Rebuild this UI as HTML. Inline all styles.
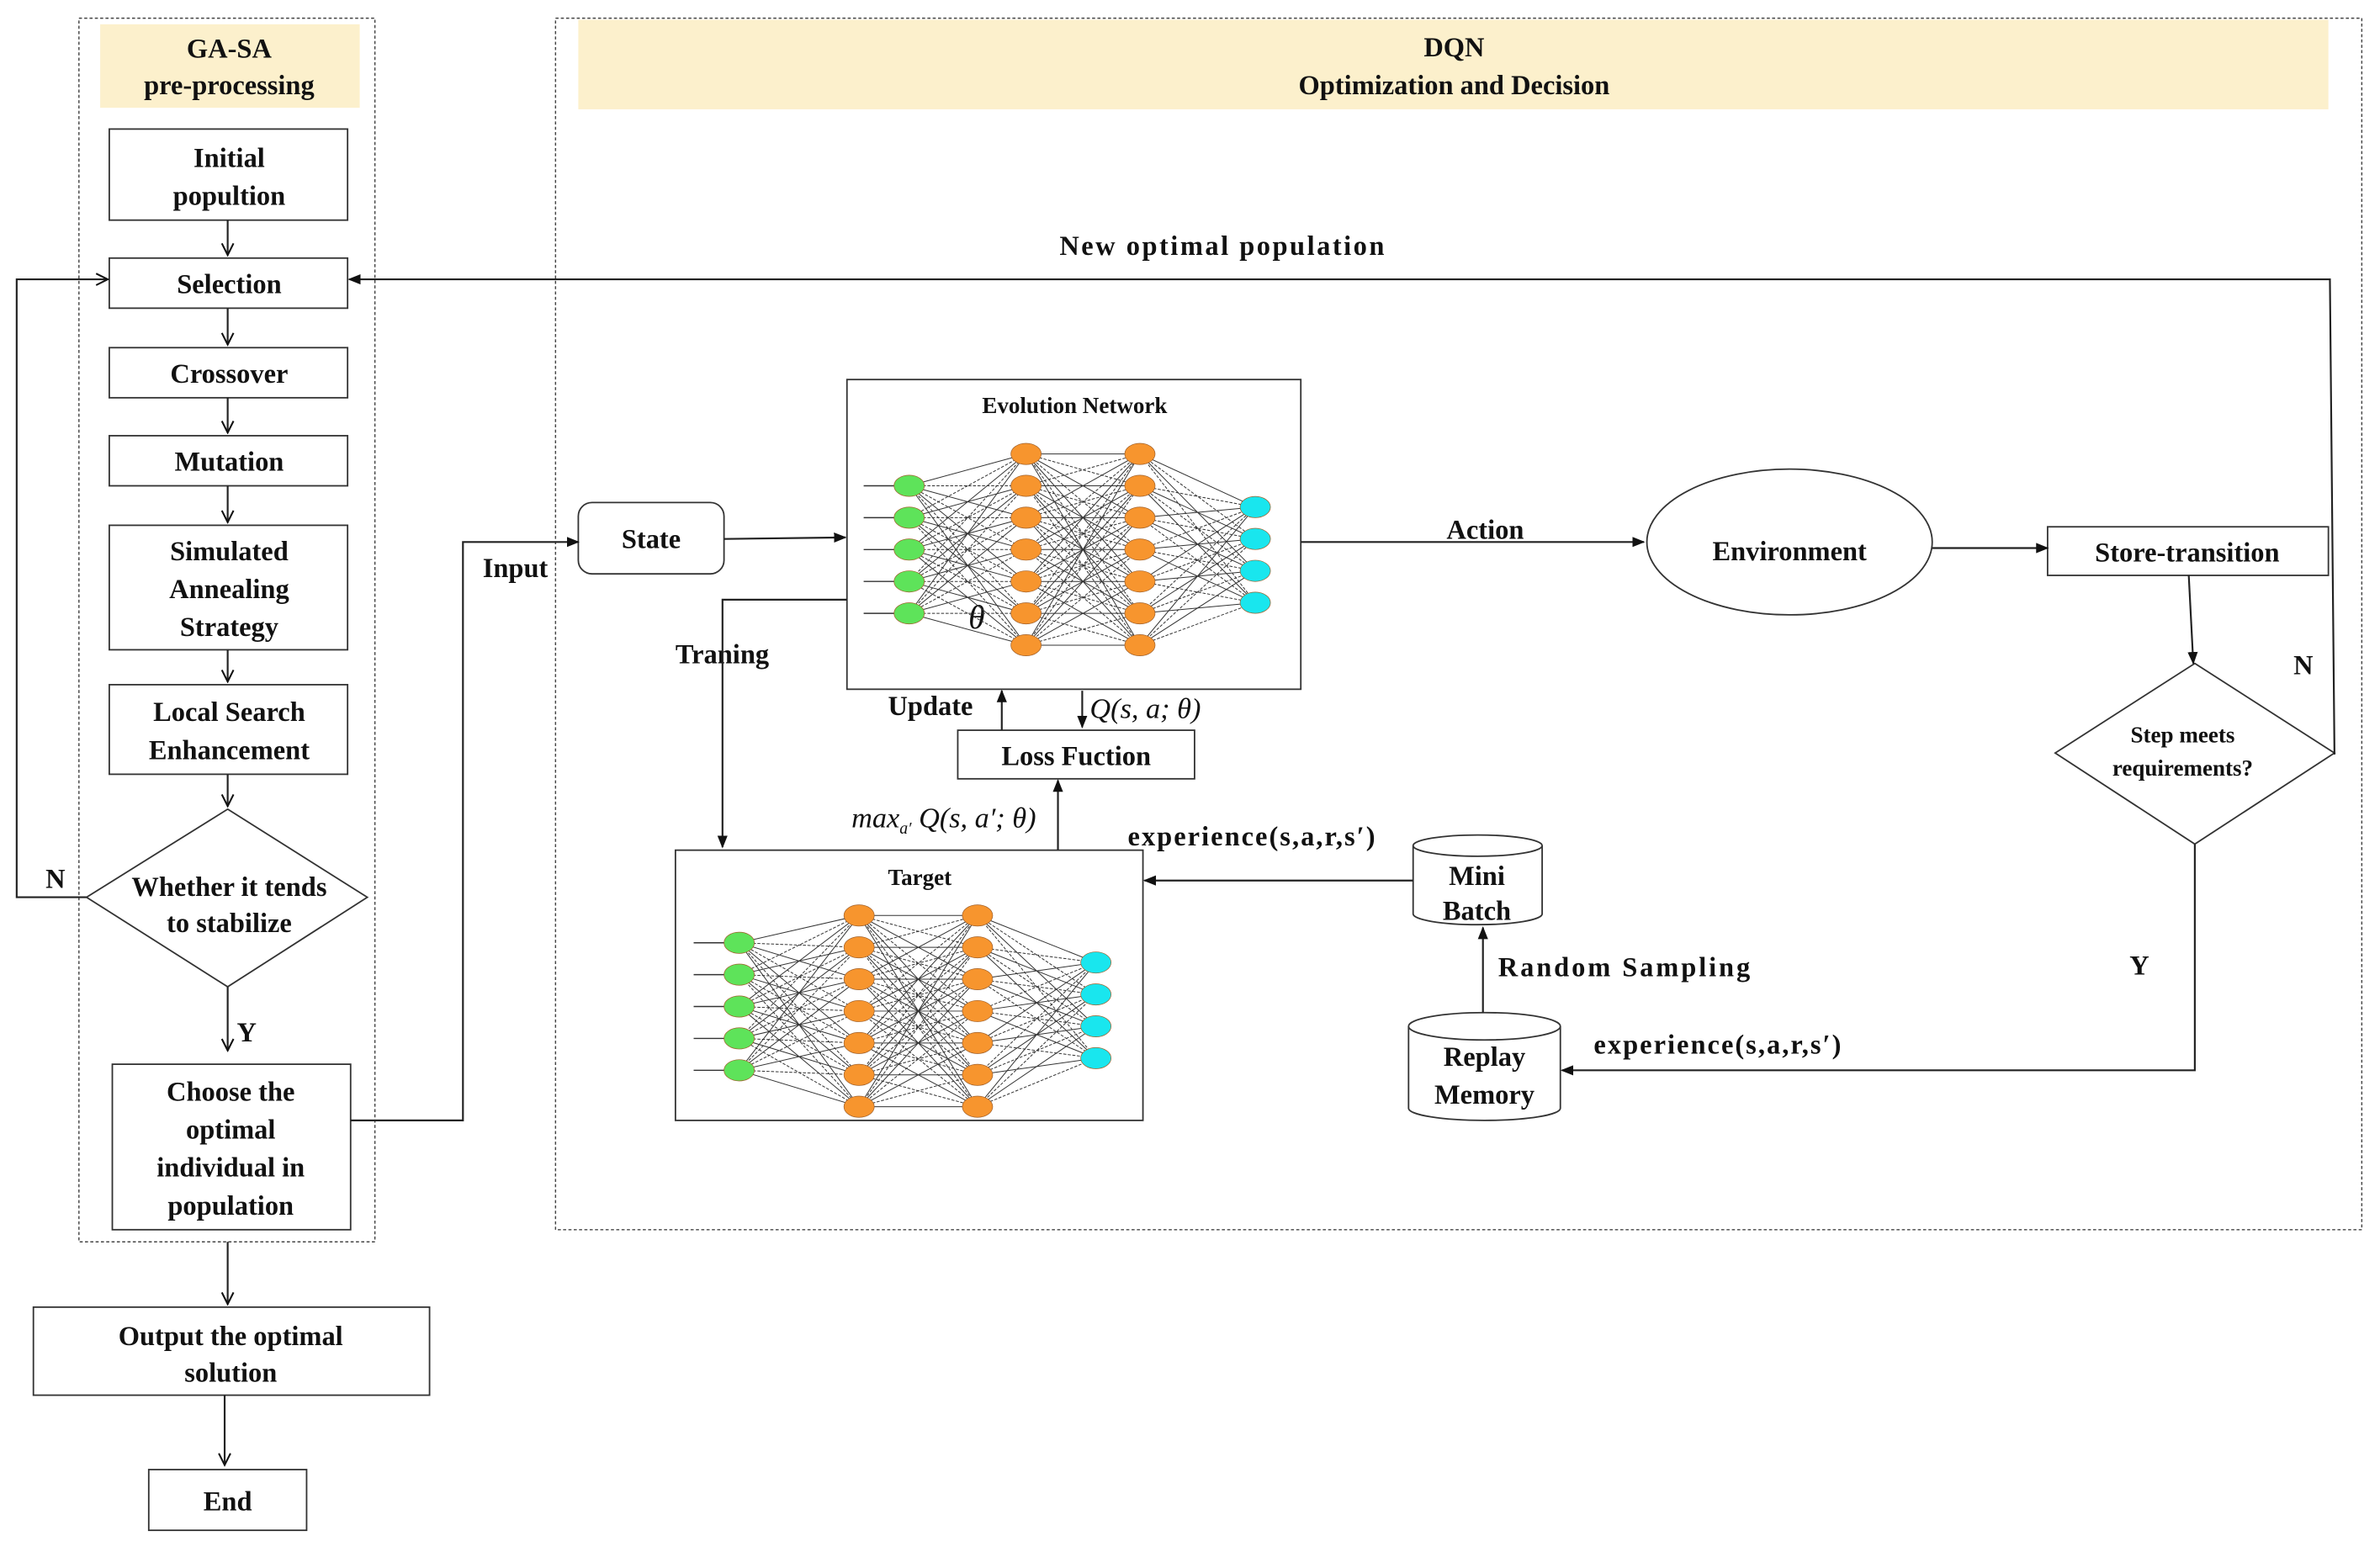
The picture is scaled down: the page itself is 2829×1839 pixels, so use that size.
<!DOCTYPE html>
<html><head><meta charset="utf-8"><style>
html,body{margin:0;padding:0;background:#fff;}
svg{display:block;}
text{font-family:"Liberation Serif",serif;font-weight:bold;fill:#111;}
</style></head><body>
<svg id="s" width="2829" height="1839" viewBox="0 0 1568 1019" preserveAspectRatio="none" xmlns="http://www.w3.org/2000/svg">
<defs>
<marker id="a" viewBox="0 0 10 10" refX="9" refY="5" markerWidth="7" markerHeight="7" orient="auto"><path d="M0,1 L10,5 L0,9 z" fill="#111"/></marker>
<marker id="o" viewBox="0 0 10 10" refX="9" refY="5" markerWidth="8" markerHeight="8" orient="auto"><path d="M1,1 L9,5 L1,9" fill="none" stroke="#111" stroke-width="1.2"/></marker>
</defs>
<rect width="1568" height="1019" fill="#fff"/>
<rect x="52" y="12" width="195" height="806" fill="none" stroke="#444" stroke-width="0.8" stroke-dasharray="2,1.5"/>
<rect x="366" y="12" width="1190" height="798" fill="none" stroke="#444" stroke-width="0.8" stroke-dasharray="2,1.5"/>
<rect x="66" y="16" width="171" height="55" fill="#fcf0cc"/>
<rect x="381" y="13" width="1153" height="59" fill="#fcf0cc"/>
<g font-size="18" text-anchor="middle">
<text x="151" y="38">GA-SA</text><text x="151" y="62">pre-processing</text>
<text x="958" y="37">DQN</text><text x="958" y="62">Optimization and Decision</text>
</g>
<g fill="#fff" stroke="#333" stroke-width="1">
<rect x="72" y="85" width="157" height="60"/>
<rect x="72" y="170" width="157" height="33"/>
<rect x="72" y="229" width="157" height="33"/>
<rect x="72" y="287" width="157" height="33"/>
<rect x="72" y="346" width="157" height="82"/>
<rect x="72" y="451" width="157" height="59"/>
<polygon points="150,533 242,591 150,650 57,591"/>
<rect x="74" y="701" width="157" height="109"/>
<rect x="22" y="861" width="261" height="58"/>
<rect x="98" y="968" width="104" height="40"/>
<rect x="381" y="331" width="96" height="47" rx="9"/>
<rect x="558" y="250" width="299" height="204"/>
<ellipse cx="1179" cy="357" rx="94" ry="48"/>
<rect x="1349" y="347" width="185" height="32"/>
<polygon points="1446,437 1538,496 1446,556 1354,496"/>
<rect x="445" y="560" width="308" height="178"/>
<rect x="631" y="481" width="156" height="32"/>
</g>
<g fill="#fff" stroke="#333" stroke-width="1">
<path d="M931,557 L931,602 A42,7 0 0 0 1016,602 L1016,557"/><ellipse cx="973.5" cy="557" rx="42.5" ry="7"/>
<path d="M928,676 L928,730 A50,8 0 0 0 1028,730 L1028,676"/><ellipse cx="978" cy="676" rx="50" ry="9"/>
</g>
<g font-size="18" text-anchor="middle">
<text x="151" y="110">Initial</text><text x="151" y="135">popultion</text>
<text x="151" y="193">Selection</text>
<text x="151" y="252">Crossover</text>
<text x="151" y="310">Mutation</text>
<text x="151" y="369">Simulated</text><text x="151" y="394">Annealing</text><text x="151" y="419">Strategy</text>
<text x="151" y="475">Local Search</text><text x="151" y="500">Enhancement</text>
<text x="151" y="590">Whether it tends</text><text x="151" y="614">to stabilize</text>
<text x="152" y="725">Choose the</text><text x="152" y="750">optimal</text><text x="152" y="775">individual in</text><text x="152" y="800">population</text>
<text x="152" y="886">Output the optimal</text><text x="152" y="910">solution</text>
<text x="150" y="995">End</text>
<text x="429" y="361">State</text>
<text x="1179" y="369">Environment</text>
<text x="1441" y="370">Store-transition</text>
<text x="709" y="504">Loss Fuction</text>
<text x="973" y="583">Mini</text><text x="973" y="606">Batch</text>
<text x="978" y="702">Replay</text><text x="978" y="727">Memory</text>
</g>
<g font-size="15" text-anchor="middle">
<text x="1438" y="489">Step meets</text><text x="1438" y="511">requirements?</text>
<text x="708" y="272">Evolution Network</text>
<text x="606" y="583">Target</text>
</g>
<g font-size="18">
<text x="30" y="585">N</text><text x="156" y="686">Y</text>
<text x="318" y="380">Input</text>
<text x="698" y="168" textLength="214">New optimal population</text>
<text x="445" y="437">Traning</text>
<text x="953" y="355">Action</text>
<text x="1511" y="444">N</text><text x="1403" y="642">Y</text>
<text x="585" y="471">Update</text>
<text x="987" y="643" textLength="166">Random Sampling</text>
<text x="743" y="557" textLength="163">experience(s,a,r,s′)</text>
<text x="1050" y="694" textLength="163">experience(s,a,r,s′)</text>
</g>
<g font-size="19" font-style="italic">
<text x="718" y="473" style="font-weight:normal">Q(s, a; θ)</text>
<text x="561" y="545" style="font-weight:normal">max<tspan font-size="11" dy="4">a′</tspan><tspan dy="-4"> Q(s, a′; θ)</tspan></text>
<text x="638" y="414" font-size="22" style="font-weight:normal">θ</text>
</g>
<g fill="none" stroke="#222" stroke-width="1.2">
<path d="M150,145 V168" marker-end="url(#o)"/>
<path d="M150,203 V227" marker-end="url(#o)"/>
<path d="M150,262 V285" marker-end="url(#o)"/>
<path d="M150,320 V344" marker-end="url(#o)"/>
<path d="M150,428 V449" marker-end="url(#o)"/>
<path d="M150,510 V531" marker-end="url(#o)"/>
<path d="M150,650 V692" marker-end="url(#o)"/>
<path d="M150,818 V859" marker-end="url(#o)"/>
<path d="M148,919 V965" marker-end="url(#o)"/>
<path d="M57,591 H11 V184 H71" marker-end="url(#o)"/>
<path d="M1538,497 L1535,184 H230" marker-end="url(#a)"/>
<path d="M231,738 H305 V357 H381" marker-end="url(#a)"/>
<path d="M477,355 L557,354" marker-end="url(#a)"/>
<path d="M558,395 H476 V558" marker-end="url(#a)"/>
<path d="M857,357 H1083" marker-end="url(#a)"/>
<path d="M1273,361 H1349" marker-end="url(#a)"/>
<path d="M1442,379 L1445,437" marker-end="url(#a)"/>
<path d="M1446,556 V705 H1029" marker-end="url(#a)"/>
<path d="M977,667 V611" marker-end="url(#a)"/>
<path d="M931,580 H754" marker-end="url(#a)"/>
<path d="M660,481 V455" marker-end="url(#a)"/>
<path d="M713,455 V479" marker-end="url(#a)"/>
<path d="M697,560 V514" marker-end="url(#a)"/>
</g>
<g id="nets"></g>
</svg>
<script>
(function(){
var g=document.getElementById('nets'),NS='http://www.w3.org/2000/svg';
function el(t,a){var e=document.createElementNS(NS,t);for(var k in a)e.setAttribute(k,a[k]);g.appendChild(e);}
function col(x,y0,n,sp){var r=[];for(var i=0;i<n;i++)r.push([x,y0+i*sp]);return r;}
function net(L){
 var cols=[col(L[0],L[1],5,21),col(L[2],L[3],7,21),col(L[4],L[3],7,21),col(L[5],L[6],4,21)];
 for(var c=0;c<3;c++)for(var i=0;i<cols[c].length;i++)for(var j=0;j<cols[c+1].length;j++){
  var p=cols[c][i],q=cols[c+1][j];el('line',{x1:p[0],y1:p[1],x2:q[0],y2:q[1],stroke:'#333','stroke-width':0.55,'stroke-dasharray':(i+j)%2?'2,1':''});}
 cols[0].forEach(function(p){el('line',{x1:p[0]-30,y1:p[1],x2:p[0]-10,y2:p[1],stroke:'#333','stroke-width':0.8});});
 var fills=['#5ee35a','#f7952e','#f7952e','#19e6ee'];
 cols.forEach(function(cc,k){cc.forEach(function(p){el('ellipse',{cx:p[0],cy:p[1],rx:10,ry:7,fill:fills[k],stroke:'#a0602a','stroke-width':0.4});});});
}
net([599,320,676,299,751,827,334]);
net([487,621,566,603,644,722,634]);
})();
</script>
</body></html>
